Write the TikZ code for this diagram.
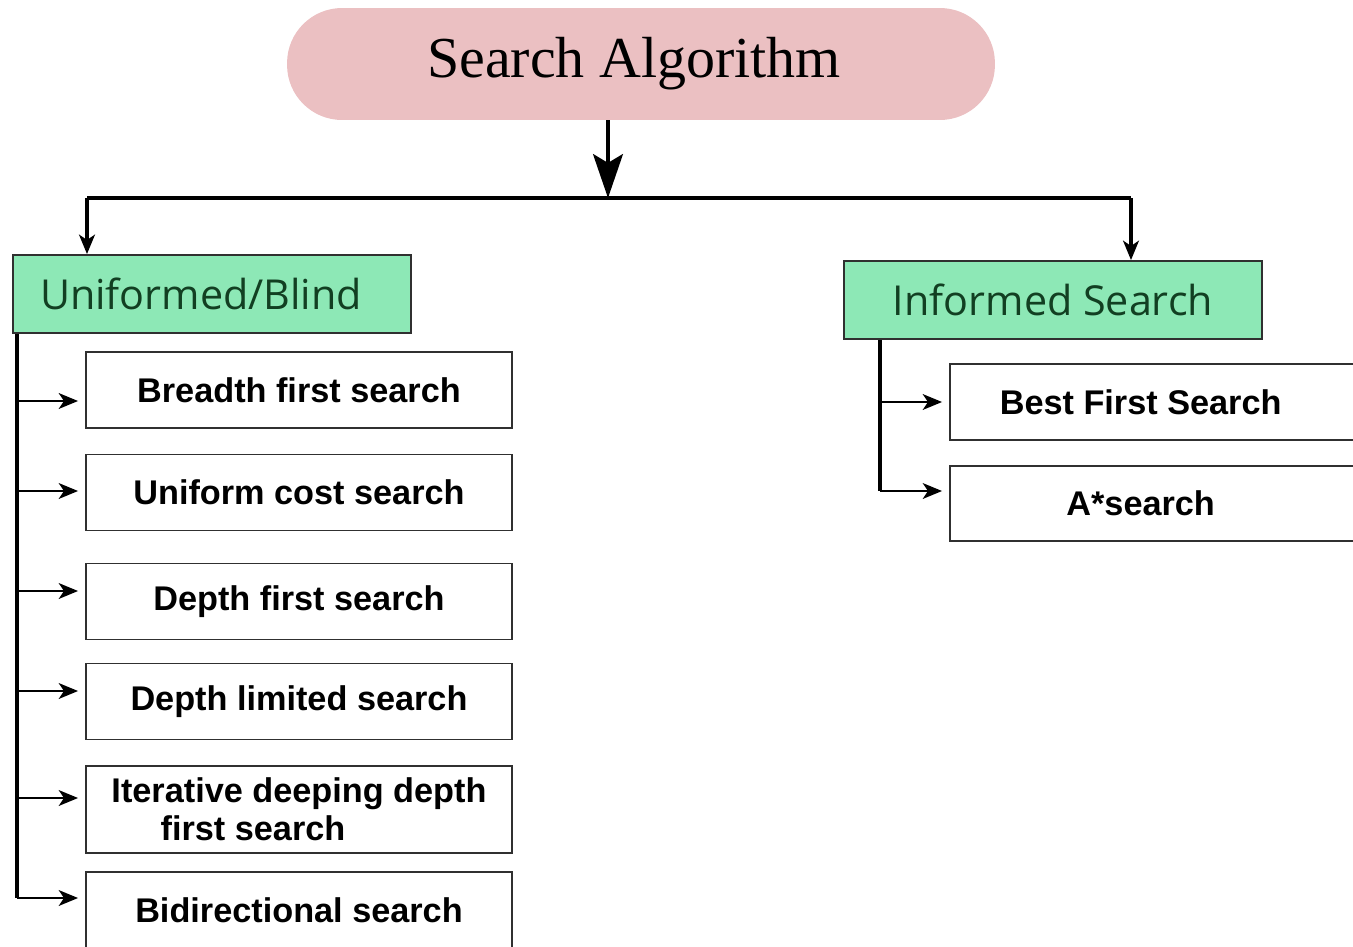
\documentclass[tikz,border=0pt]{standalone}
\usepackage{fontspec}
\setsansfont{Liberation Sans}
\newfontfamily\groupfont{Open Sans}
\newfontfamily\titlefont{Liberation Serif}
\usetikzlibrary{arrows.meta}
\definecolor{pillpink}{HTML}{EBC0C2}
\definecolor{groupgreen}{HTML}{8DE8B6}
\definecolor{groupink}{HTML}{123F22}
\definecolor{boxline}{HTML}{303030}
\begin{document}
\begin{tikzpicture}[x=0.02cm,y=-0.02cm,
  >={Stealth[length=11pt,width=9pt,inset=3pt]},
  title/.style={fill=pillpink,rounded corners=1.1cm,minimum width=14.16cm,
    minimum height=2.24cm,font=\titlefont\fontsize{33}{38}\selectfont},
  group/.style={draw=boxline,line width=1.1pt,fill=groupgreen,text=groupink,
    minimum height=1.56cm,font=\groupfont\fontsize{23.5}{27}\selectfont},
  leaf/.style={draw=boxline,line width=1.1pt,fill=white,minimum width=8.52cm,
    minimum height=1.52cm,font=\sffamily\bfseries\fontsize{19.5}{21.5}\selectfont},
  link/.style={line width=1.3pt,->,shorten >=4pt},
  bus/.style={line width=1.9pt}]
\useasboundingbox (0,0) rectangle (1353,947);
\clip (0,0) rectangle (1353,947);

\node[title] (algo)    at (641,64)      {Search Algorithm\hspace*{8pt}};

\node[group,text width=6.88cm,inner xsep=0.54cm,align=left] (blind)   at (212,294)   {Uniformed/Blind};
\node[group,minimum width=8.36cm] (informed)   at (1053,300)   {Informed Search};

\node[leaf] (bfs)    at (299,390)      {Breadth first search};
\node[leaf] (ucs)    at (299,492.5)    {Uniform cost search};
\node[leaf] (dfs)    at (299,601.5)    {Depth first search};
\node[leaf] (dls)    at (299,701.5)    {Depth limited search};
\node[leaf,minimum height=1.74cm,align=left] (iddfs)  at (299,809.5)
  {Iterative deeping depth\\\hspace*{28pt}first search};
\node[leaf] (bds)    at (299,910)      {Bidirectional search};

\node[leaf,minimum width=8.4cm] (bestfs)  at (1160,402)    {Best First Search\hspace*{22pt}};
\node[leaf,minimum width=8.4cm,minimum height=1.5cm] (astar)  at (1160,503.5)   {A*search\hspace*{22pt}};

\coordinate (bus)     at (608,198);
\coordinate (busL)    at (87,198);
\coordinate (busR)    at (1131,198);
\coordinate (spineL)  at (17,898);
\coordinate (spineR)  at (880,491);

% top arrow and bus
\draw[line width=1.9pt,-{Stealth[length=25pt,width=17pt,inset=5pt]}] (bus |- algo.south) -- (bus);
\draw[bus] (busL) -- (busR);
\draw[bus,->] (busL) -- (busL |- blind.north);
\draw[bus,->] (busR) -- (busR |- informed.north);

% uninformed side
\draw[bus] (spineL |- blind.south) -- (spineL);
\draw[link] ([yshift=-0.22cm]bfs.west -| spineL) -- ([yshift=-0.22cm]bfs.west);
\draw[link] ([yshift=0.03cm]ucs.west -| spineL) -- ([yshift=0.03cm]ucs.west);
\draw[link] ([yshift=0.21cm]dfs.west -| spineL) -- ([yshift=0.21cm]dfs.west);
\draw[link] ([yshift=0.21cm]dls.west -| spineL) -- ([yshift=0.21cm]dls.west);
\draw[link] ([yshift=0.23cm]iddfs.west -| spineL) -- ([yshift=0.23cm]iddfs.west);
\draw[link] ([yshift=0.24cm]bds.west -| spineL) -- ([yshift=0.24cm]bds.west);

% informed side
\draw[bus] (spineR |- informed.south) -- (spineR);
\draw[link] (bestfs.west -| spineR) -- (bestfs.west);
\draw[link] ([yshift=0.25cm]astar.west -| spineR) -- ([yshift=0.25cm]astar.west);
\end{tikzpicture}
\end{document}
